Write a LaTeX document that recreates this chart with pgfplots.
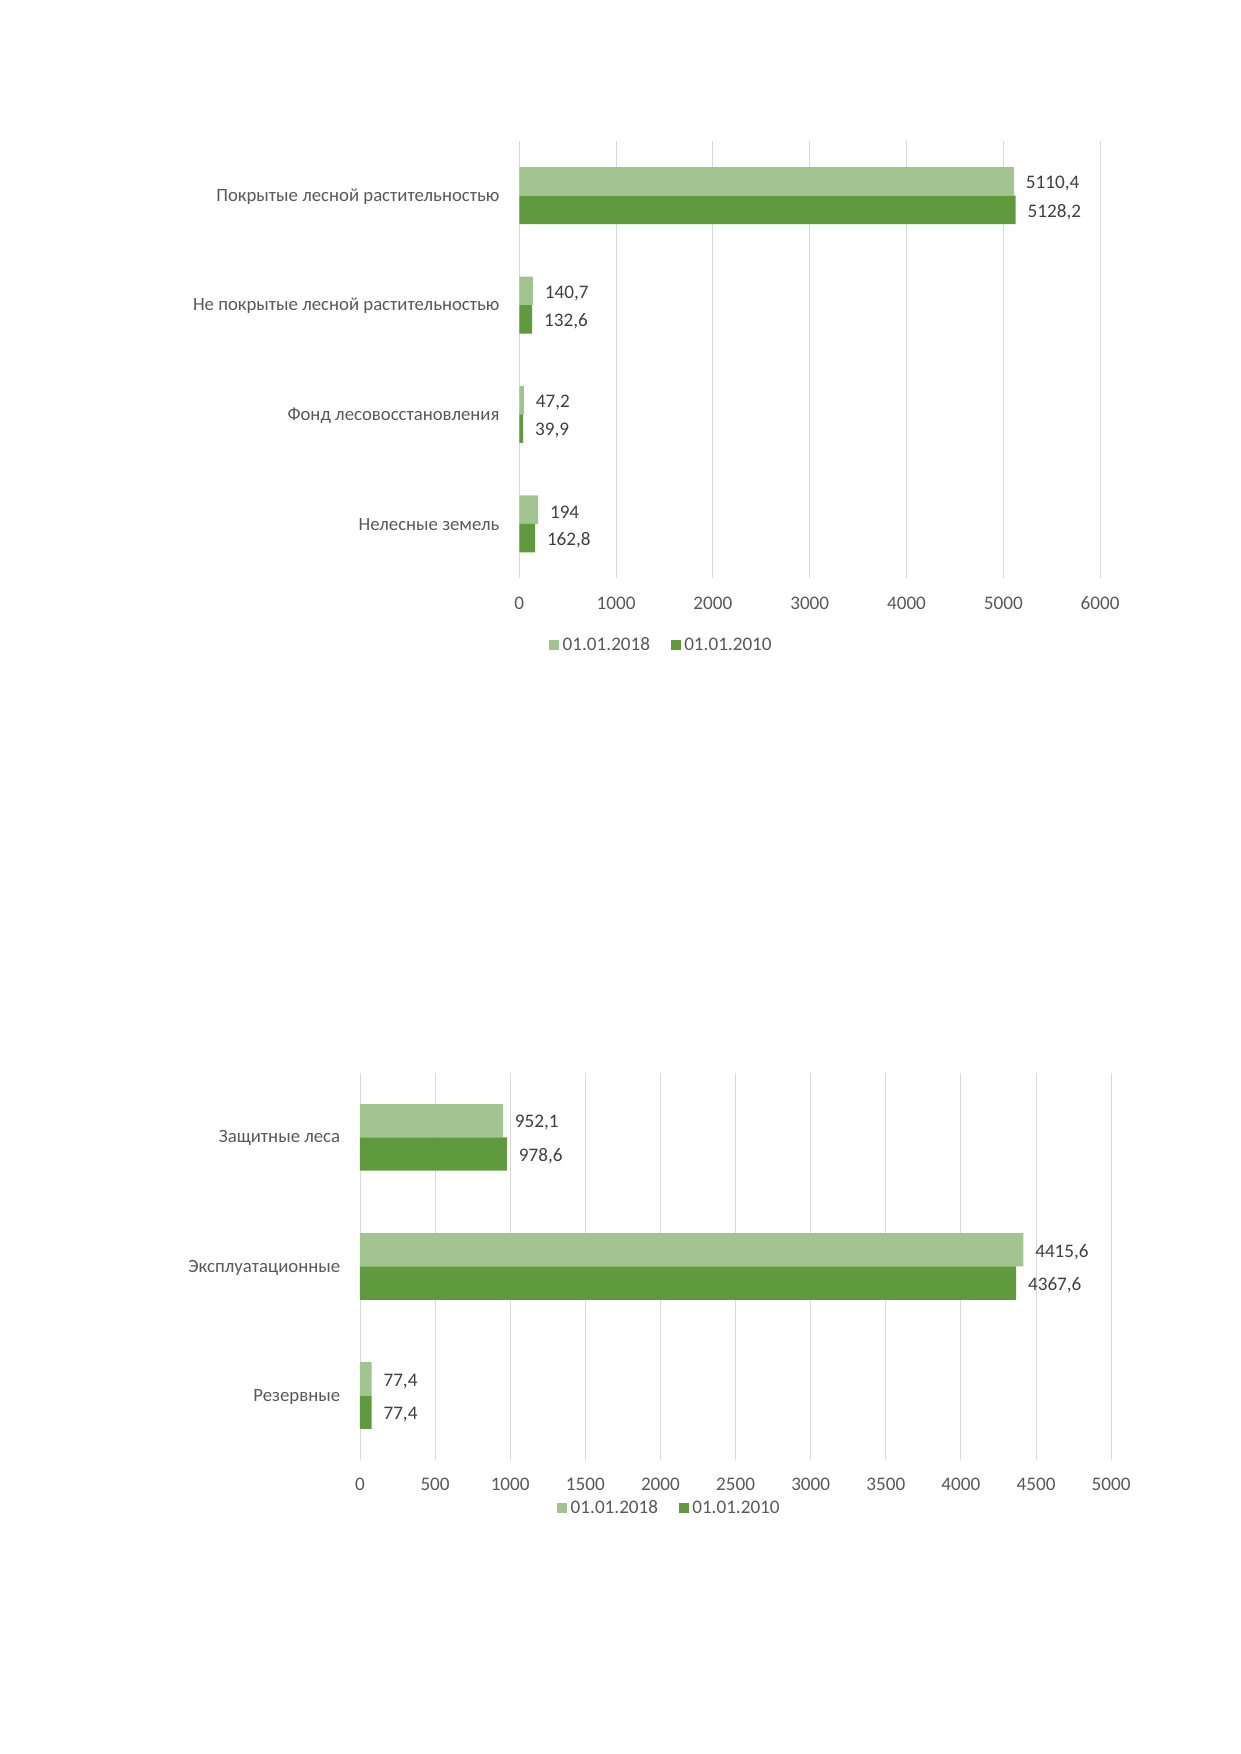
\documentclass[border=0pt]{standalone}
\usepackage{pgfplots}
\usepackage{pgfplotstable}
\pgfplotsset{compat=1.18}
\usepackage{fontspec}
\setmainfont{Carlito}
\definecolor{lightg}{HTML}{A2C490}
\definecolor{darkg}{HTML}{609A3E}
\definecolor{gridg}{HTML}{D9D9D9}
\definecolor{txtg}{HTML}{595959}
\definecolor{lblg}{HTML}{404040}

\pgfplotstableread{
y v lab
3 5110.4 5110,4
2 140.7 140,7
1 47.2 47,2
0 194 194
}\tabAnew
\pgfplotstableread{
y v lab
3 5128.2 5128,2
2 132.6 132,6
1 39.9 39,9
0 162.8 162,8
}\tabAold
\pgfplotstableread{
y v lab
2 952.1 952,1
1 4415.6 4415,6
0 77.4 77,4
}\tabBnew
\pgfplotstableread{
y v lab
2 978.6 978,6
1 4367.6 4367,6
0 77.4 77,4
}\tabBold

\pgfplotsset{
  mybar/.style={
    scale only axis,
    xbar,
    enlargelimits=false,
    axis line style={draw=none},
    major tick length=0pt,
    xmajorgrids,
    ymajorgrids=false,
    grid style={gridg, line width=0.45pt},
    tick label style={font=\fontsize{9.2}{11}\selectfont, text=txtg},
    yticklabel style={font=\fontsize{9.0}{11}\selectfont, xshift=-6pt, yshift=-0.5pt},
    xticklabel style={yshift=-5.2pt},
    /pgf/number format/assume math mode=true,
    /pgf/number format/1000 sep={},
    point meta=explicit symbolic,
    nodes near coords,
    every node near coord/.append style={font=\fontsize{9.2}{11}\selectfont, text=lblg, anchor=west, xshift=2.2pt, yshift=-1.1pt},
    legend columns=2,
    legend style={draw=none, fill=none, anchor=center, font=\fontsize{9.2}{11}\selectfont, text=txtg,
      /tikz/every even column/.append style={column sep=8pt},
      nodes={inner sep=1.8pt}},
    legend image code/.code={\fill (0pt,-2.4pt) rectangle (4.8pt,2.4pt);},
  }
}

\begin{document}
\begin{tikzpicture}
\fill[white] (0,0) rectangle (595.28pt,-842pt);
\path[use as bounding box] (0,0) rectangle (595.28pt,-842pt);

\begin{axis}[mybar,
  at={(249.3pt,-67.7pt)}, anchor=north west,
  width=278.8pt, height=210pt,
  xmin=0, xmax=6000, xtick={0,1000,...,6000},
  ymin=-0.5, ymax=3.5, ytick={0,1,2,3},
  yticklabels={Нелесные земель,Фонд лесовосстановления,Не покрытые лесной растительностью,Покрытые лесной растительностью},
  bar width=13.7pt,
  legend style={at={(0.246,-0.153)}},
]
\addplot[fill=lightg, draw=none, bar shift=6.85pt] table[x=v, y=y, meta=lab] {\tabAnew};
\addlegendentry{01.01.2018}
\addplot[fill=darkg, draw=none, bar shift=-6.85pt] table[x=v, y=y, meta=lab] {\tabAold};
\addlegendentry{01.01.2010}
\end{axis}

\begin{axis}[mybar,
  at={(172.8pt,-515pt)}, anchor=north west,
  width=360.6pt, height=185.9pt,
  xmin=0, xmax=5000, xtick={0,500,...,5000},
  ymin=-0.5, ymax=2.5, ytick={0,1,2},
  yticklabels={Резервные,Эксплуатационные,Защитные леса},
  bar width=16pt,
  legend style={at={(0.413,-0.125)}},
]
\addplot[fill=lightg, draw=none, bar shift=8pt] table[x=v, y=y, meta=lab] {\tabBnew};
\addlegendentry{01.01.2018}
\addplot[fill=darkg, draw=none, bar shift=-8pt] table[x=v, y=y, meta=lab] {\tabBold};
\addlegendentry{01.01.2010}
\end{axis}
\end{tikzpicture}
\end{document}
